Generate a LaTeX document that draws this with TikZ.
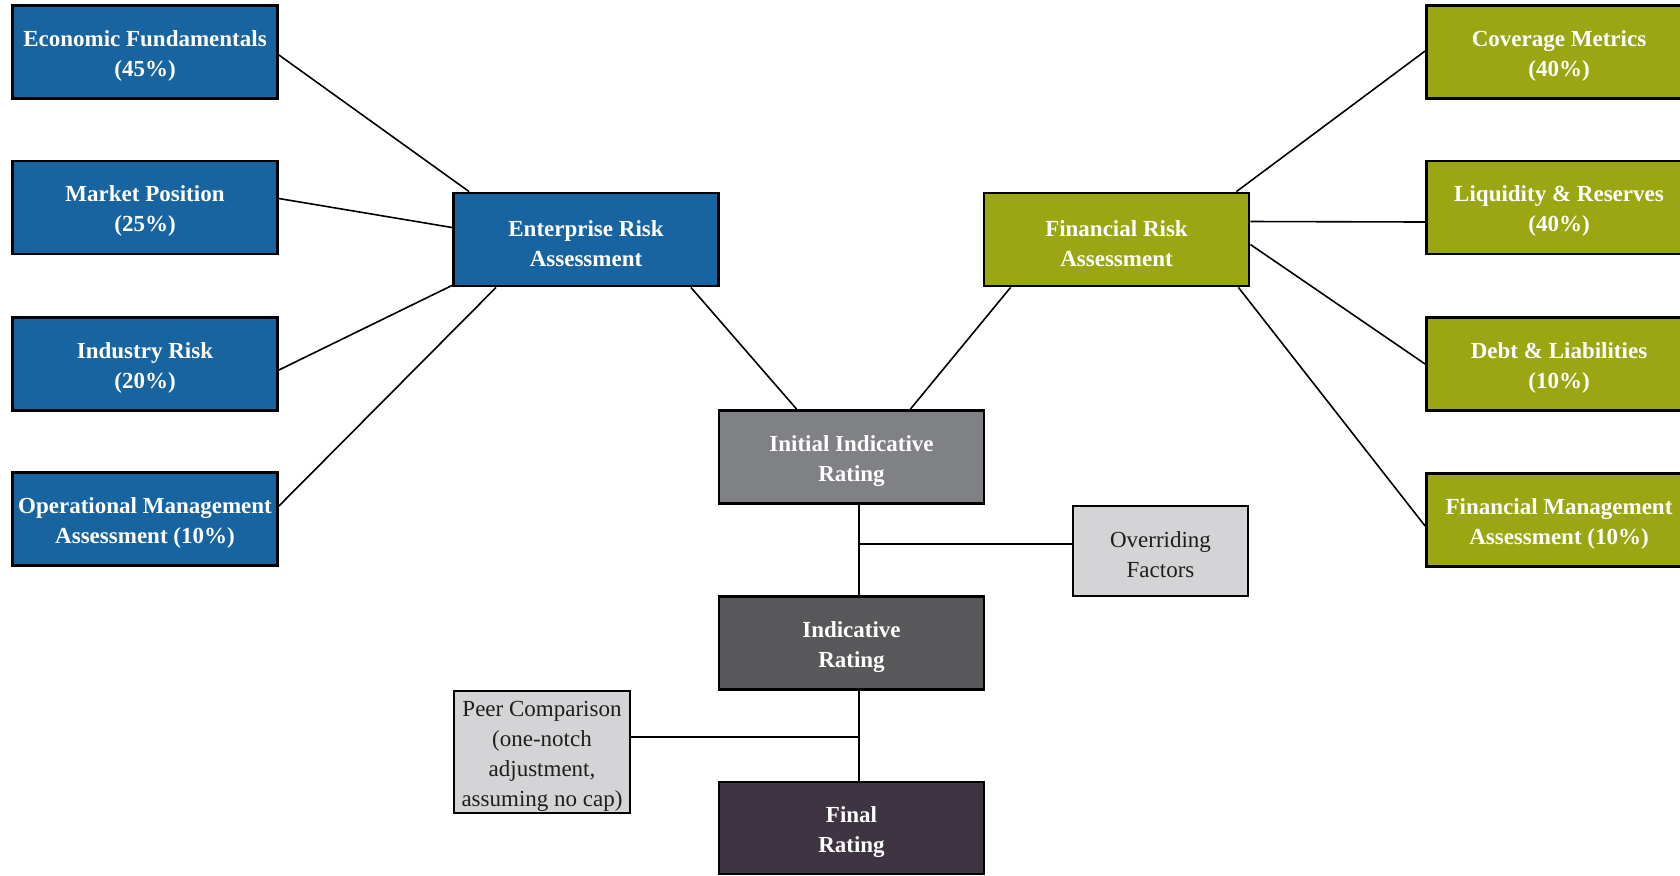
\documentclass[tikz,border=0pt]{standalone}
\usepackage{fontspec}
\setmainfont{Liberation Serif}
\usetikzlibrary{calc}
\definecolor{erblue}{RGB}{24,100,160}
\definecolor{frgreen}{RGB}{154,167,19}
\definecolor{iirgray}{RGB}{128,129,133}
\definecolor{indgray}{RGB}{88,88,90}
\definecolor{finplum}{RGB}{63,52,66}
\definecolor{lightbox}{RGB}{212,212,214}
\definecolor{darktext}{RGB}{30,30,30}
\newcommand{\tgap}{\rule{0pt}{11.8pt}}
\begin{document}
\begin{tikzpicture}[x=0.5pt,y=-0.5pt,
  box/.style={draw=black, line width=1.4pt, minimum width=132.5pt, minimum height=46.5pt,
    align=center, text=white, inner sep=0pt, font=\fontsize{11.5}{15}\selectfont\bfseries},
  bluebox/.style={box, fill=erblue},
  greenbox/.style={box, fill=frgreen},
  lightnode/.style={draw=black, line width=1.4pt, fill=lightbox, align=center, text=darktext,
    inner sep=0pt, font=\fontsize{11.5}{15}\selectfont},
  conn/.style={line width=0.8pt, draw=black}]
\useasboundingbox (0,0) rectangle (1680,875);
\fill[white] (0,0) rectangle (1680,875);

% left column
\node[bluebox] (ef) at (145,52) {\tgap Economic Fundamentals\\(45\%)};
\node[bluebox] (mp) at (145,207.5) {\tgap Market Position\\(25\%)};
\node[bluebox] (ir) at (145,364) {\tgap Industry Risk\\(20\%)};
\node[bluebox] (om) at (145,519) {\tgap Operational Management\\Assessment (10\%)};

% assessments
\node[bluebox] (era) at (586,239.5) {\tgap Enterprise Risk\\Assessment};
\node[greenbox] (fra) at (1116.5,239.5) {\tgap Financial Risk\\Assessment};

% right column
\node[greenbox] (cm) at (1559,52) {\tgap Coverage Metrics\\(40\%)};
\node[greenbox] (lr) at (1559,207.5) {\tgap Liquidity \& Reserves\\(40\%)};
\node[greenbox] (dl) at (1559,364) {\tgap Debt \& Liabilities\\(10\%)};
\node[greenbox] (fm) at (1559,520) {\tgap Financial Management\\Assessment (10\%)};

% rating chain
\node[box, fill=iirgray] (iir) at (851.5,457) {\tgap Initial Indicative\\Rating};
\node[box, fill=indgray] (ind) at (851.5,643) {\tgap Indicative\\Rating};
\node[box, fill=finplum, minimum height=46pt] (final) at (851.5,828) {\tgap Final\\Rating};

\node[lightnode, minimum width=87.5pt, minimum height=45pt] (of) at (1160.5,551) {\tgap Overriding\\Factors};
\node[lightnode, minimum width=88pt, minimum height=61pt] (pc) at (542,752)
  {\tgap Peer Comparison\\(one-notch\\adjustment,\\assuming no cap)};

% connectors: left factors to ERA
\draw[conn] ($(ef.east)+(0,3)$) -- ($(era.north west)+(17,0)$);
\draw[conn] ($(mp.east)+(0,-9)$) -- ($(era.west)+(0,-12)$);
\draw[conn] ($(ir.east)+(0,6)$) -- ($(era.south west)+(0,-2)$);
\draw[conn] ($(om.east)+(0,-13)$) -- ($(era.south west)+(44,0)$);

% assessments to initial rating
\draw[conn] ($(era.south east)+(-29,0)$) -- ($(iir.north west)+(79,0)$);
\draw[conn] ($(fra.south west)+(28,0)$) -- ($(iir.north east)+(-75,0)$);

% FRA to right factors
\draw[conn] ($(fra.north east)+(-14,0)$) -- ($(cm.west)+(0,-1)$);
\draw[conn] ($(fra.east)+(0,-18)$) -- ($(lr.west)+(0,14.5)$);
\draw[conn] ($(fra.east)+(0,5)$) -- (dl.west);
\draw[conn] ($(fra.south east)+(-12,0)$) -- ($(fm.west)+(0,6)$);

% chain
\coordinate (j1) at (859,544);
\coordinate (j2) at (859,737);
\draw[conn] (iir.south -| j1) -- (j1) -- (ind.north -| j1);
\draw[conn] (j1) -- (of.west |- j1);
\draw[conn] (ind.south -| j2) -- (j2) -- (final.north -| j2);
\draw[conn] (pc.east |- j2) -- (j2);
\end{tikzpicture}
\end{document}
